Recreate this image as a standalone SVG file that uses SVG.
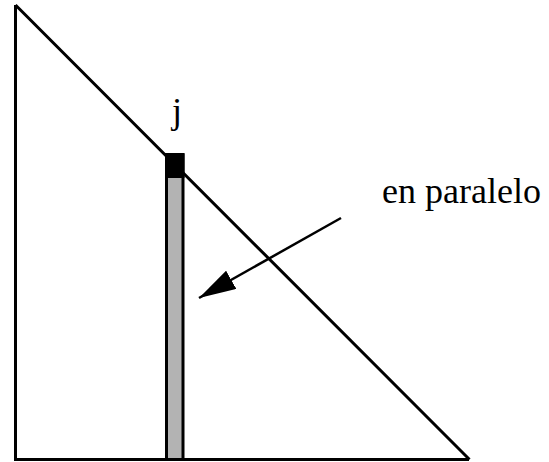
<svg xmlns="http://www.w3.org/2000/svg" width="549" height="462" viewBox="0 0 549 462">
<style>
.ln{fill:none;stroke:#000;stroke-width:3}
.lbl{font-family:"Liberation Serif","Times New Roman",serif;font-size:36px;fill:#000}
</style>
<defs>
<marker id="ah" markerUnits="userSpaceOnUse" viewBox="0 0 37 21" refX="37" refY="10.5" markerWidth="37" markerHeight="21" orient="auto">
<path d="M0,0 L37,10.5 L0,21 Z" fill="#000"/>
</marker>
</defs>
<rect width="549" height="462" fill="#fff"/>
<g id="triangle">
<path class="ln" d="M15.5,5 L15.5,459.5 L469,459.5 M15.5,5 L469.5,459.5"/>
</g>
<g id="bar">
<rect x="166.5" y="155" width="16.5" height="304.5" fill="#b3b3b3" stroke="#000" stroke-width="3"/>
<rect x="165" y="153" width="19.5" height="25" fill="#000"/>
</g>
<g id="label-j">
<text class="lbl" x="177" y="123" text-anchor="middle">j</text>
</g>
<g id="label-en-paralelo">
<text class="lbl" x="382" y="203">en paralelo</text>
</g>
<g id="connectors">
<line x1="341" y1="218" x2="199" y2="298" stroke="#000" stroke-width="2.5" marker-end="url(#ah)"/>
</g>
</svg>
